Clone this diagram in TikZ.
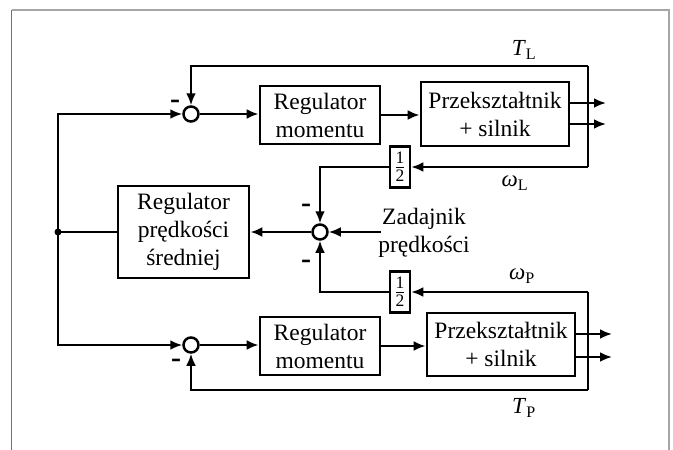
\documentclass[tikz,border=0pt]{standalone}
\usepackage{fontspec}
\usepackage{amsmath}
\setmainfont{Liberation Serif}
\usetikzlibrary{arrows.meta}
\begin{document}
\begin{tikzpicture}[x=1pt,y=-1pt,
  ln/.style={line width=2.8pt},
  arr/.style={ln,-{Latex[length=12pt,width=10pt]}},
  blk/.style={draw,line width=2.8pt,inner sep=0pt,align=center,font=\fontsize{23.5}{28}\selectfont},
  sumc/.style={circle,draw,line width=2.5pt,fill=white,minimum size=15pt,inner sep=0pt},
  halfbox/.style={draw,line width=2.5pt,minimum width=20pt,minimum height=41pt,inner sep=0pt,font=\fontsize{25}{25}\selectfont},
  minus/.style={inner sep=0pt,font=\fontsize{30}{30}\selectfont\bfseries},
  lab/.style={inner sep=0pt,font=\fontsize{23}{23}\selectfont}
]
\useasboundingbox (0,0) rectangle (673,450);
% frame
\draw[line width=1.3pt,draw=black!55] (11.5,455) -- (11.5,10);
\draw[line width=1.1pt,draw=black!35] (11.5,10) -- (669,10) -- (669,455);

% nodes
\node[sumc] (sumU) at (191,114) {};
\node[sumc] (sumM) at (320,232) {};
\node[sumc] (sumL) at (191,345) {};
\node[blk,minimum width=120pt,minimum height=58pt] (regU) at (320,115) {Regulator\\momentu};
\node[blk,minimum width=148pt,minimum height=64pt] (przU) at (495,114) {Przekształtnik\\+ silnik};
\node[blk,minimum width=120pt,minimum height=58pt] (regL) at (320,346) {Regulator\\momentu};
\node[blk,minimum width=148pt,minimum height=63pt] (przL) at (501,344.5) {Przekształtnik\\+ silnik};
\node[blk,minimum width=131pt,minimum height=92pt] (regP) at (183.5,232) {Regulator\\prędkości\\średniej};
\node[halfbox] (halfU) at (400,167) {$\frac{\text{1}}{\text{2}}$};
\node[halfbox] (halfL) at (400,292) {$\frac{\text{1}}{\text{2}}$};
\node[blk,draw=none,inner sep=0pt,text width=100pt] (zad) at (424,233) {Zadajnik\\prędkości};
\node[circle,fill=black,minimum size=7pt,inner sep=0pt] (dot) at (58,232) {};

\coordinate (trU) at (588,66);
\coordinate (brU) at (588,167);
\coordinate (trL) at (588,292);
\coordinate (brL) at (588,390);
\coordinate (oU1) at (606,103);
\coordinate (oU2) at (606,124);
\coordinate (oL1) at (612,334);
\coordinate (oL2) at (612,357);
\coordinate (zin) at (381,232);

% left distribution
\draw[ln] (regP.west) -- (dot.center);
\draw[arr] (dot.center) |- (sumU);
\draw[arr] (dot.center) |- (sumL);

% forward paths
\draw[arr] (sumU) -- (regU.west |- sumU);
\draw[arr] (regU) -- (przU.west |- regU);
\draw[arr] (sumL) -- (regL.west |- sumL);
\draw[arr] (regL) -- (przL.west |- regL);

% outputs
\draw[arr] (przU.east |- oU1) -- (oU1);
\draw[arr] (przU.east |- oU2) -- (oU2);
\draw[arr] (przL.east |- oL1) -- (oL1);
\draw[arr] (przL.east |- oL2) -- (oL2);

% upper feedback
\draw[ln] (trU) -- (brU);
\draw[arr] (trU) -| (sumU);
\draw[arr] (brU) -- (halfU);
\draw[arr] (halfU.west) -| (sumM);

% lower feedback
\draw[ln] (trL) -- (brL);
\draw[arr] (brL) -| (sumL);
\draw[arr] (trL) -- (halfL);
\draw[arr] (halfL.west) -| (sumM);

% speed loop
\draw[arr] (zin) -- (sumM);
\draw[arr] (sumM) -- (regP);

% minus signs
\node[minus] (m1) at (175,104) {-};
\node[minus] (m2) at (306,208) {-};
\node[minus] (m3) at (306,264) {-};
\node[minus] (m4) at (176,363) {-};

% labels
\node[lab] (tl) at (524,50) {\textit{T}\textsubscript{L}};
\node[lab] (wl) at (515,183) {\textit{ω}\textsubscript{L}};
\node[lab] (wp) at (522,276) {\textit{ω}\textsubscript{P}};
\node[lab] (tp) at (524,408) {\textit{T}\textsubscript{P}};
\end{tikzpicture}
\end{document}
